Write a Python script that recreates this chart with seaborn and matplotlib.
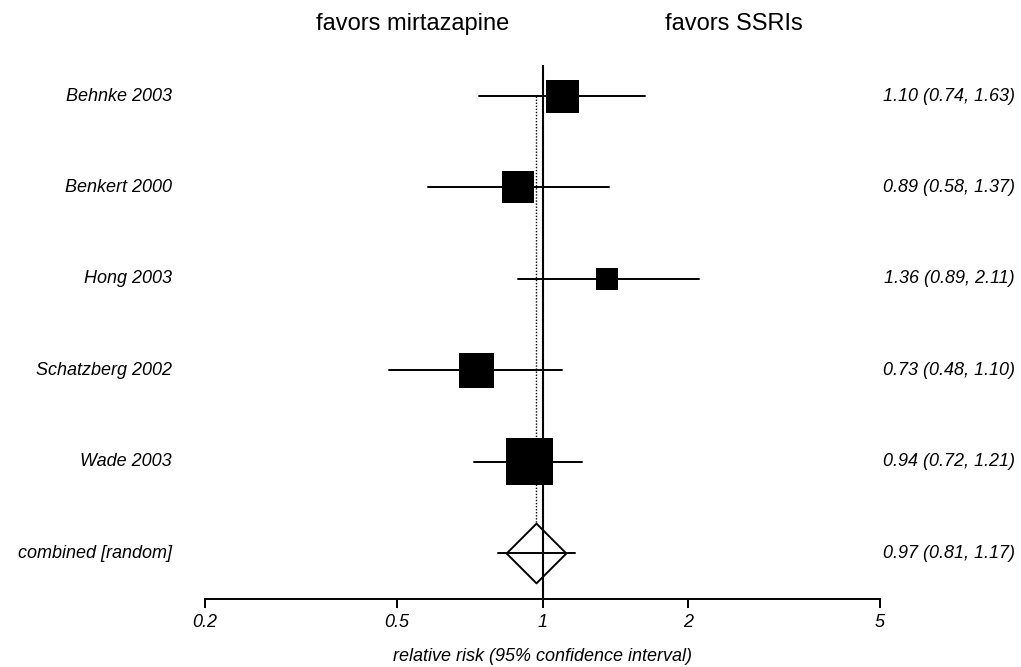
import pandas as pd
import numpy as np
import matplotlib
matplotlib.use("Agg")
import matplotlib.pyplot as plt
import matplotlib.transforms as mtransforms
import seaborn as sns

# Dados do forest plot
estudos = ["Behnke 2003", "Benkert 2000", "Hong 2003", "Schatzberg 2002", "Wade 2003"]
rr = [1.10, 0.89, 1.36, 0.73, 0.94]
ic_inf = [0.74, 0.58, 0.89, 0.48, 0.72]
ic_sup = [1.63, 1.37, 2.11, 1.10, 1.21]
pesos = [18.1, 17.0, 8.0, 20.3, 36.6]  # peso (%) -> area do quadrado

comb_nome = "combined [random]"
comb_rr = 0.97
comb_inf = 0.81
comb_sup = 1.17

ticks = [0.2, 0.5, 1, 2, 5]
tick_labels = ["0.2", "0.5", "1", "2", "5"]

sns.set_theme(style="white")
plt.rcParams["font.family"] = ["Liberation Sans", "DejaVu Sans"]
plt.rcParams["text.color"] = "black"
plt.rcParams["axes.labelcolor"] = "black"
plt.rcParams["xtick.color"] = "black"
plt.rcParams["xtick.labelcolor"] = "black"

df = pd.DataFrame({"estudo": estudos, "rr": rr, "inf": ic_inf, "sup": ic_sup, "peso": pesos})
df["linha"] = np.arange(len(df))
linha_comb = len(df)

fig = plt.figure(figsize=(10.21, 6.67), dpi=100)
ax = fig.add_axes([0.2008, 0.1019, 0.6611, 0.8006])

# linha de nulidade e linha do efeito combinado
ax.axvline(1, color="black", lw=1.5, zorder=5)
ax.plot([comb_rr, comb_rr], [0, linha_comb], color="black", lw=1.0, ls=(0, (1, 1.2)), zorder=1)

# intervalos de confianca
for _, r in df.iterrows():
    ax.plot([r["inf"], r["sup"]], [r["linha"], r["linha"]], color="black", lw=1.4, zorder=2)
ax.plot([comb_inf, comb_sup], [linha_comb, linha_comb], color="black", lw=1.4, zorder=4)

# quadrados proporcionais ao peso
k = 31.2
sns.scatterplot(
    data=df, x="rr", y="linha", size="peso",
    sizes=(k * min(pesos), k * max(pesos)), size_norm=(min(pesos), max(pesos)),
    marker="s", color="black", linewidth=0, legend=False, ax=ax, zorder=3,
)

# losango do efeito combinado
losango = [(-1, 0), (0, 1), (1, 0), (0, -1), (-1, 0)]
ax.plot([comb_rr], [linha_comb], marker=losango, markersize=43,
        markerfacecolor="white", markeredgecolor="black", markeredgewidth=1.4, zorder=3)

ax.set_xscale("log")
ax.set_xlim(0.2, 5)
ax.set_ylim(linha_comb + 0.503, -0.339)
ax.set_xticks(ticks)
ax.set_xticklabels(tick_labels, fontstyle="italic", fontsize=13, color="black")
ax.xaxis.set_minor_locator(matplotlib.ticker.NullLocator())
ax.set_yticks([])
ax.tick_params(axis="x", bottom=True, length=6.5, width=1.4, pad=4, color="black")
for lado in ["top", "right", "left"]:
    ax.spines[lado].set_visible(False)
ax.spines["bottom"].set_color("black")
ax.spines["bottom"].set_linewidth(1.4)
ax.set_ylabel("")
ax.set_xlabel("relative risk (95% confidence interval)", fontstyle="italic", fontsize=13, color="black")
ax.xaxis.set_label_coords(0.5, -0.092)
ax.xaxis.label.set_va("top")

# textos laterais
trans = mtransforms.blended_transform_factory(ax.transAxes, ax.transData)
nomes = estudos + [comb_nome]
textos = [f"{a:.2f} ({b:.2f}, {c:.2f})" for a, b, c in zip(rr, ic_inf, ic_sup)]
textos.append(f"{comb_rr:.2f} ({comb_inf:.2f}, {comb_sup:.2f})")
for i, (n, t) in enumerate(zip(nomes, textos)):
    ax.text(-0.0489, i, n, transform=trans, ha="right", va="center",
            fontstyle="italic", fontsize=13, color="black", clip_on=False)
    ax.text(1.2, i, t, transform=trans, ha="right", va="center",
            fontstyle="italic", fontsize=13, color="black", clip_on=False)

fig.text(0.404, 0.955, "favors mirtazapine", ha="center", va="baseline", fontsize=17, color="black")
fig.text(0.719, 0.955, "favors SSRIs", ha="center", va="baseline", fontsize=17, color="black")

fig.savefig("out.png", dpi=100)
plt.close(fig)
